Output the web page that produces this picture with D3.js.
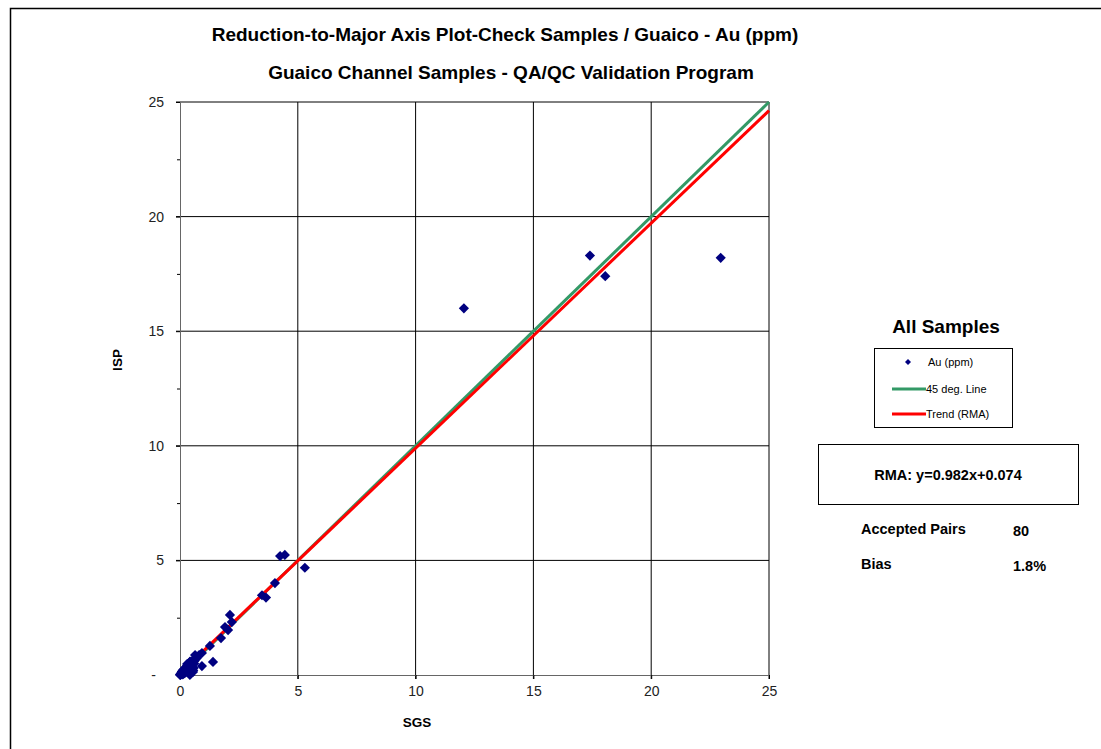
<!DOCTYPE html>
<html>
<head>
<meta charset="utf-8">
<script src="https://cdn.jsdelivr.net/npm/d3@7"></script>
<style>
  body { margin: 0; background: #fff; }
  svg { display: block; font-family: "Liberation Sans", Arial, sans-serif; }
</style>
</head>
<body>
<svg id="chart" width="1101" height="749"></svg>
<script>
// check assays: SGS (original) vs ISP (check)
const sgs = [12.05, 17.4, 18.05, 22.95, 4.25, 4.45, 5.3, 4.03, 3.48, 3.65,
  2.12, 2.2, 1.91, 2.04, 1.74, 1.27, 1.4, 0.81, 0.72, 0.93,
  0.64, 0.93, 0.42, 0.3, 0.51, 0.55, 0.13, 0, 0.21, 0.42,
  0.08, 0.34, 0.05, 0.1, 0.15, 0.18, 0.25, 0.28, 0.35, 0.38,
  0.45, 0.48, 0.02, 0.06, 0.11, 0.16, 0.2, 0.24, 0.31, 0.36,
  0.4, 0.44, 0.5, 0.03, 0.07, 0.12, 0.14, 0.19, 0.22, 0.27,
  0.33, 0.37, 0.46, 0.52, 0.58, 0.04, 0.09, 0.17, 0.23, 0.29,
  0.32, 0.39, 0.43, 0.47, 0.6, 0.01, 0.26, 0.41, 0.56, 0.62];
const isp = [16.0, 18.3, 17.4, 18.2, 5.19, 5.24, 4.68, 4.01, 3.48, 3.38,
  2.62, 2.31, 2.09, 1.96, 1.61, 1.27, 0.57, 0.87, 0.74, 0.96,
  0.87, 0.39, 0.57, 0.48, 0.35, 0.13, 0.22, 0, 0.09, 0.0,
  0.13, 0.22, 0.04, 0.08, 0.1, 0.2, 0.15, 0.3, 0.28, 0.42,
  0.5, 0.12, 0.02, 0.05, 0.14, 0.06, 0.25, 0.18, 0.4, 0.33,
  0.45, 0.52, 0.6, 0.01, 0.11, 0.03, 0.19, 0.26, 0.16, 0.35,
  0.24, 0.46, 0.38, 0.55, 0.3, 0.07, 0.16, 0.12, 0.29, 0.21,
  0.36, 0.31, 0.58, 0.44, 0.5, 0.03, 0.27, 0.48, 0.2, 0.62];

const majorTicks = [0, 5, 10, 15, 20, 25];
const minorTicks = [2.5, 7.5, 12.5, 17.5, 22.5];
const rmaSlope = 0.982;
const rmaIntercept = 0.074;

const titleMain = "Reduction-to-Major Axis Plot-Check Samples / Guaico - Au (ppm)";
const titleSub = "Guaico Channel Samples - QA/QC Validation Program";
const legendItems = ["Au (ppm)", "45 deg. Line", "Trend (RMA)"];

const svg = d3.select("#chart");

// outer frame (runs off the right/bottom edge like the source)
svg.append("rect")
  .attr("x", 10.5).attr("y", 8.5)
  .attr("width", 1120).attr("height", 800)
  .attr("fill", "none").attr("stroke", "#000").attr("stroke-width", 1.5);

const x = d3.scaleLinear().domain([0, 25]).range([180, 769]);
const y = d3.scaleLinear().domain([0, 25]).range([675, 102]);

// grid
const grid = svg.append("g");
grid.selectAll(".vg").data(majorTicks.slice(1)).join("line")
  .attr("x1", d => x(d)).attr("x2", d => x(d))
  .attr("y1", y(25)).attr("y2", y(0) + 4)
  .attr("stroke", "#000").attr("stroke-width", 1);
grid.selectAll(".hg").data(majorTicks.slice(1)).join("line")
  .attr("x1", x(0) - 4).attr("x2", x(25))
  .attr("y1", d => y(d)).attr("y2", d => y(d))
  .attr("stroke", "#000").attr("stroke-width", 1);

// axes
svg.append("g")
  .attr("transform", `translate(0,${y(0)})`)
  .call(d3.axisBottom(x).tickValues(majorTicks).tickSize(4).tickPadding(7))
  .call(g => g.select(".domain").attr("stroke", "#666"))
  .call(g => g.selectAll("text").attr("font-size", 14).attr("fill", "#222")
    .attr("font-family", "Liberation Sans, Arial, sans-serif"));

svg.append("g")
  .attr("transform", `translate(${x(0)},0)`)
  .call(d3.axisLeft(y).tickValues(majorTicks).tickSize(4).tickPadding(12)
    .tickFormat(d => d === 0 ? "-" : d))
  .call(g => g.select(".domain").attr("stroke", "#666"))
  .call(g => g.selectAll("text").attr("font-size", 14).attr("fill", "#222")
    .attr("font-family", "Liberation Sans, Arial, sans-serif"))
  .call(g => g.selectAll("text").filter(d => d === 0).attr("dx", -8));

svg.append("g")
  .attr("transform", `translate(${x(0)},0)`)
  .call(d3.axisLeft(y).tickValues(minorTicks).tickSize(3).tickFormat(""))
  .call(g => g.select(".domain").remove());

// 45 degree line and RMA trend
const line = d3.line().x(d => x(d[0])).y(d => y(d[1]));
svg.append("path")
  .attr("d", line([[0, 0], [25, 25]]))
  .attr("stroke", "#339966").attr("stroke-width", 3).attr("fill", "none");
svg.append("path")
  .attr("d", line([[0, rmaIntercept], [25, rmaSlope * 25 + rmaIntercept]]))
  .attr("stroke", "#ff0000").attr("stroke-width", 3).attr("fill", "none");

// points
const diamond = d3.symbol(d3.symbolSquare, 52);
svg.append("g").selectAll("path").data(sgs.map((v, i) => [v, isp[i]])).join("path")
  .attr("d", diamond)
  .attr("transform", d => `translate(${x(d[0])},${y(d[1])}) rotate(45)`)
  .attr("fill", "#000080");

// titles
svg.append("text").attr("x", 505).attr("y", 41).attr("text-anchor", "middle")
  .attr("font-size", 19).attr("font-weight", "bold").text(titleMain);
svg.append("text").attr("x", 511).attr("y", 79).attr("text-anchor", "middle")
  .attr("font-size", 19).attr("font-weight", "bold").text(titleSub);

// axis titles
svg.append("text").attr("x", 417).attr("y", 727).attr("text-anchor", "middle")
  .attr("font-size", 13.5).attr("font-weight", "bold").text("SGS");
svg.append("text").attr("transform", "translate(122,360) rotate(-90)")
  .attr("text-anchor", "middle").attr("font-size", 13.5).attr("font-weight", "bold").text("ISP");

// legend
svg.append("text").attr("x", 946).attr("y", 333).attr("text-anchor", "middle")
  .attr("font-size", 19).attr("font-weight", "bold").text("All Samples");
svg.append("rect").attr("x", 874.5).attr("y", 348.5).attr("width", 138).attr("height", 79)
  .attr("fill", "#fff").attr("stroke", "#000");
const lg = svg.append("g");
lg.append("path").attr("d", d3.symbol(d3.symbolSquare, 18))
  .attr("transform", "translate(908,362) rotate(45)").attr("fill", "#000080");
lg.append("line").attr("x1", 892).attr("x2", 926).attr("y1", 389).attr("y2", 389)
  .attr("stroke", "#339966").attr("stroke-width", 3);
lg.append("line").attr("x1", 892).attr("x2", 926).attr("y1", 414).attr("y2", 414)
  .attr("stroke", "#ff0000").attr("stroke-width", 3);
lg.selectAll("text").data(legendItems).join("text")
  .attr("x", (d, i) => i === 0 ? 928 : 926)
  .attr("y", (d, i) => [366, 393, 418][i])
  .attr("font-size", 11).text(d => d);

// RMA box
svg.append("rect").attr("x", 818.5).attr("y", 444.5).attr("width", 260).attr("height", 60)
  .attr("fill", "#fff").attr("stroke", "#000");
svg.append("text").attr("x", 948).attr("y", 480).attr("text-anchor", "middle")
  .attr("font-size", 14.5).attr("font-weight", "bold")
  .text(`RMA: y=${rmaSlope}x+${rmaIntercept}`);

// stats
const stats = [["Accepted Pairs", "80", 534], ["Bias", "1.8%", 569]];
stats.forEach(s => {
  svg.append("text").attr("x", 861).attr("y", s[2]).attr("font-size", 14.5)
    .attr("font-weight", "bold").text(s[0]);
  svg.append("text").attr("x", 1013).attr("y", s[2] + 2).attr("font-size", 14.5)
    .attr("font-weight", "bold").text(s[1]);
});
</script>
</body>
</html>
